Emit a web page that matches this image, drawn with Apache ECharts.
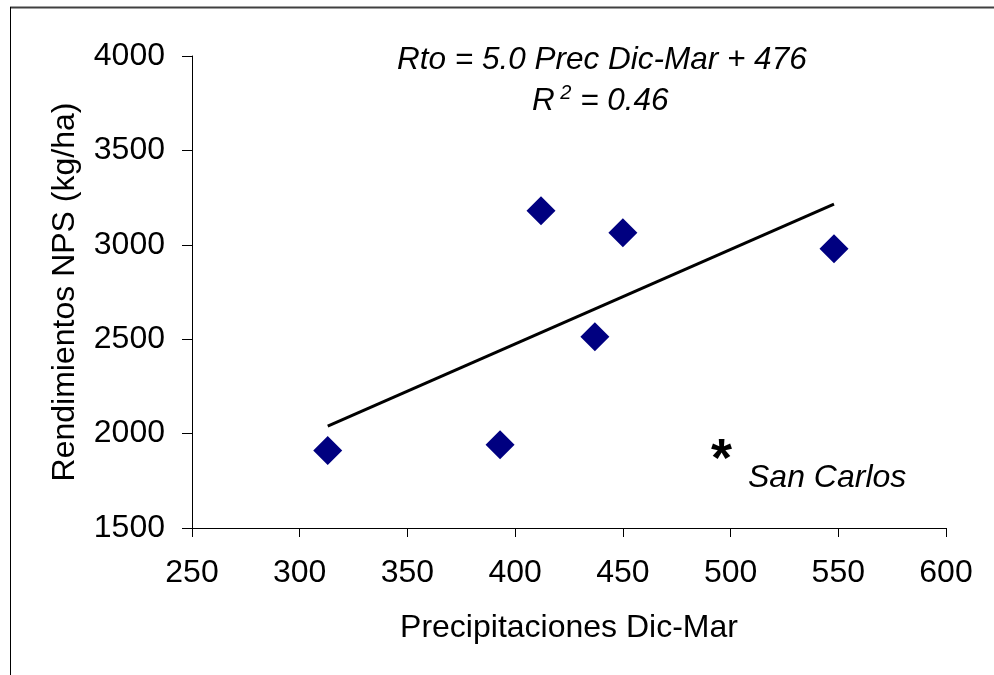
<!DOCTYPE html>
<html>
<head>
<meta charset="utf-8">
<script src="https://cdn.jsdelivr.net/npm/echarts@6/dist/echarts.min.js"></script>
<style>
  html, body { margin: 0; padding: 0; background: #fff; }
  #chart-container { width: 994px; height: 675px; }
</style>
</head>
<body>
<div id="chart-container"></div>
<script>
// precipitaciones dic-mar (mm) vs rendimiento (kg/ha)
var precip = [313, 393, 412, 437, 450, 548];
var rend = [1910, 1941, 3181, 2513, 3064, 2979];
// trend line ends
var trendX = [313, 548];
var trendY = [2040, 3215];
var xTicks = [250, 600, 50];
var yTicks = [1500, 4000, 500];

var font = 'Liberation Sans, Arial, sans-serif';

var dom = document.getElementById('chart-container');
var myChart = echarts.init(dom, null, { renderer: 'canvas' });

var pts = precip.map(function (x, i) { return [x, rend[i]]; });
var trend = trendX.map(function (x, i) { return [x, trendY[i]]; });

var option = {
  backgroundColor: '#fff',
  animation: false,
  grid: { left: 192, right: 48, top: 56, bottom: 147 },
  xAxis: {
    type: 'value',
    min: xTicks[0], max: xTicks[1], interval: xTicks[2],
    name: 'Precipitaciones Dic-Mar',
    nameLocation: 'middle',
    nameGap: 84,
    nameTextStyle: { fontFamily: font, fontSize: 32, color: '#000' },
    axisLine: { show: true, lineStyle: { color: '#000', width: 1 } },
    axisTick: { show: true, length: 9, lineStyle: { color: '#000' } },
    axisLabel: { margin: 29, fontFamily: font, fontSize: 32, color: '#000', formatter: function (v) { return String(v); } },
    splitLine: { show: false }
  },
  yAxis: {
    type: 'value',
    min: yTicks[0], max: yTicks[1], interval: yTicks[2],
    name: 'Rendimientos NPS (kg/ha)',
    nameLocation: 'middle',
    nameGap: 111,
    nameTextStyle: { fontFamily: font, fontSize: 32, color: '#000' },
    axisLine: { show: true, lineStyle: { color: '#000', width: 1 } },
    axisTick: { show: true, length: 10, lineStyle: { color: '#000' } },
    axisLabel: { margin: 27, fontFamily: font, fontSize: 32, color: '#000', formatter: function (v) { return String(v); } },
    splitLine: { show: false }
  },
  graphic: [
    { type: 'line', shape: { x1: 10, y1: 7.5, x2: 994, y2: 7.5 }, style: { stroke: '#404040', lineWidth: 2 } },
    { type: 'line', shape: { x1: 10.5, y1: 7, x2: 10.5, y2: 675 }, style: { stroke: '#000', lineWidth: 1 } },
    {
      type: 'text', left: 397, top: 44,
      style: { text: 'Rto = 5.0 Prec Dic-Mar + 476', font: 'italic 31.5px ' + font, fill: '#000' }
    },
    {
      type: 'text', left: 532, top: 83,
      style: {
        text: '{a|R}{s| 2}{a| = 0.46}',
        rich: {
          a: { font: 'italic 31.5px ' + font, fill: '#000', lineHeight: 38 },
          s: { font: 'italic 20px ' + font, fill: '#000', padding: [0, 0, 17, 0] }
        }
      }
    },
    {
      type: 'text', left: 711, top: 434,
      style: { text: '*', font: 'bold 54px ' + font, fill: '#000' }
    },
    {
      type: 'text', left: 748, top: 462,
      style: { text: 'San Carlos', font: 'italic 32px ' + font, fill: '#000' }
    }
  ],
  series: [
    {
      name: 'Tendencia',
      type: 'line',
      data: trend,
      showSymbol: false,
      symbol: 'none',
      lineStyle: { color: '#000', width: 3 },
      z: 2
    },
    {
      name: 'Rendimiento',
      type: 'scatter',
      data: pts,
      symbol: 'diamond',
      symbolSize: 29,
      itemStyle: { color: '#000080', opacity: 1 },
      z: 3
    }
  ]
};

myChart.setOption(option);
window.addEventListener('resize', myChart.resize);
</script>
</body>
</html>
